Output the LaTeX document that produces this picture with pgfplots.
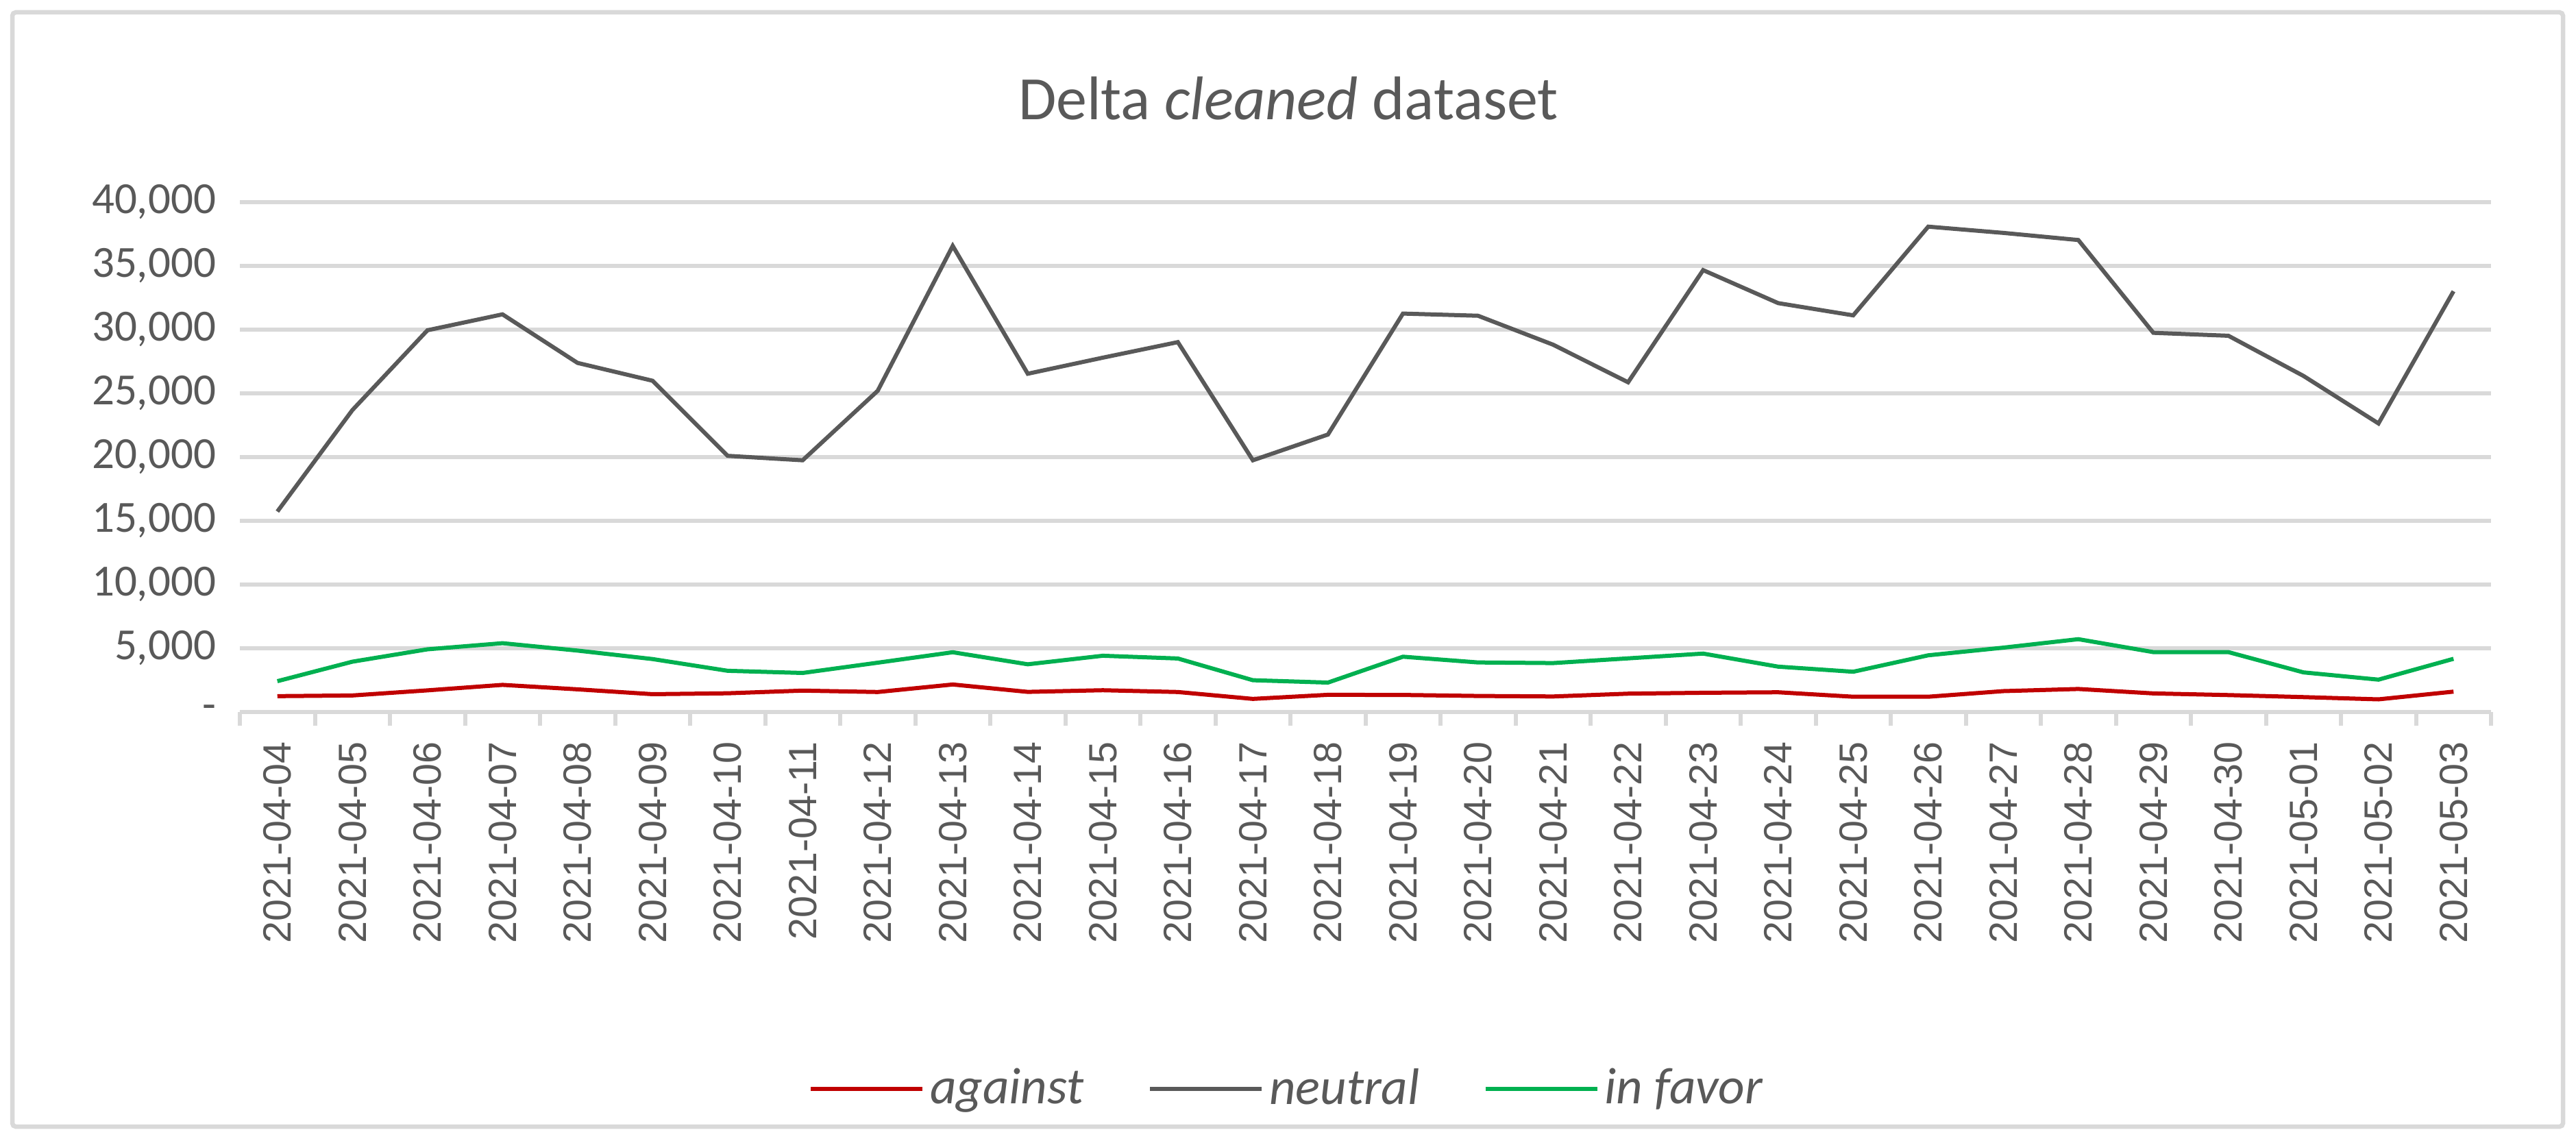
\documentclass[border=0pt]{standalone}
\usepackage{fontspec}
\setmainfont{Carlito}
\newfontfamily\arialfont{Liberation Sans}
\usepackage{pgfplots}
\usepackage{pgfplotstable}
\pgfplotsset{compat=1.18}
\definecolor{txt}{HTML}{595959}
\definecolor{grd}{HTML}{D9D9D9}
\definecolor{cred}{HTML}{C00000}
\definecolor{cgreen}{HTML}{00B050}
\definecolor{cgray}{HTML}{595959}

\pgfplotstableread{
x against neutral infavor
0  1245 15730 2420
1  1300 23690 3950
2  1700 29950 4920
3  2130 31200 5400
4  1780 27390 4820
5  1400 25990 4155
6  1470 20100 3235
7  1680 19750 3065
8  1570 25200 3870
9  2160 36570 4690
10 1580 26540 3745
11 1710 27800 4415
12 1570 29020 4200
13 1030 19750 2495
14 1350 21770 2310
15 1340 31260 4340
16 1260 31090 3890
17 1220 28820 3840
18 1440 25870 4210
19 1510 34670 4585
20 1550 32080 3560
21 1200 31120 3160
22 1200 38080 4450
23 1640 37590 5050
24 1808 37030 5715
25 1460 29750 4700
26 1330 29520 4700
27 1170 26370 3110
28 995  22640 2540
29 1600 33010 4175
}\datatable

\begin{document}
\begin{tikzpicture}
\useasboundingbox (0,0) rectangle (751.8pt,332.8pt);
\draw[grd, line width=1.3pt, rounded corners=1pt] (3.6pt,4pt) rectangle (748pt,329.2pt);
\node[font=\fontsize{18}{21}\selectfont, text=txt] at (376pt,304pt) {Delta \textit{cleaned} dataset};
\begin{axis}[
  at={(70pt,125pt)}, anchor=south west,
  scale only axis, width=657pt, height=148.8pt,
  xmin=-0.5, xmax=29.5, ymin=0, ymax=40000,
  axis lines=left,
  axis line style={draw=none},
  scaled y ticks=false,
  xtick={0,...,29},
  xticklabels={2021-04-04,2021-04-05,2021-04-06,2021-04-07,2021-04-08,2021-04-09,2021-04-10,2021-04-11,2021-04-12,2021-04-13,2021-04-14,2021-04-15,2021-04-16,2021-04-17,2021-04-18,2021-04-19,2021-04-20,2021-04-21,2021-04-22,2021-04-23,2021-04-24,2021-04-25,2021-04-26,2021-04-27,2021-04-28,2021-04-29,2021-04-30,2021-05-01,2021-05-02,2021-05-03},
  minor xtick={-0.5,0.5,...,29.5},
  ytick={0,5000,10000,15000,20000,25000,30000,35000,40000},
  yticklabels={-,{5,000},{10,000},{15,000},{20,000},{25,000},{30,000},{35,000},{40,000}},
  tick align=outside,
  major tick length=0pt,
  minor tick length=4pt,
  major x tick style={draw=none},
  major y tick style={draw=none},
  minor x tick style={draw=grd, line width=1.2pt},
  ymajorgrids,
  major grid style={draw=grd, line width=1.2pt},
  xticklabel shift=8.4pt,
  yticklabel shift=6.8pt,
  xticklabel style={font=\arialfont\fontsize{11.5}{13}\selectfont, text=txt, rotate=90, anchor=east, inner sep=0pt},
  yticklabel style={font=\fontsize{13}{15}\selectfont, text=txt, anchor=east, inner sep=0pt},
  legend columns=3,
  legend style={at={(axis description cs:0.4658,-0.739)}, anchor=center, draw=none, fill=none,
    font=\fontsize{15}{18}\selectfont\itshape, text=txt,
    /tikz/every even column/.append style={column sep=17pt},
    nodes={inner sep=1.6pt}},
  legend image code/.code={\draw[#1] (0pt,0pt) -- (32.6pt,0pt);},
]
\addplot[cred, line width=1.2pt, mark=none] table[x=x, y=against] {\datatable};
\addlegendentry{against}
\addplot[cgray, line width=1.2pt, mark=none] table[x=x, y=neutral] {\datatable};
\addlegendentry{neutral}
\addplot[cgreen, line width=1.2pt, mark=none] table[x=x, y=infavor] {\datatable};
\addlegendentry{in favor}
\end{axis}
\end{tikzpicture}
\end{document}
